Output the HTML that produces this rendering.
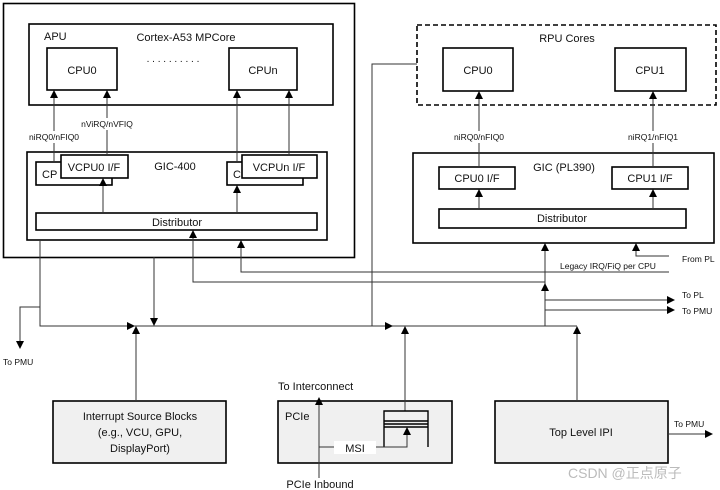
<!DOCTYPE html>
<html><head><meta charset="utf-8"><style>
html,body{margin:0;padding:0;background:#fff;}
svg{display:block;}
text{font-family:"Liberation Sans","Noto Sans CJK SC",sans-serif;fill:#111;}
</style></head><body>
<svg width="720" height="490" viewBox="0 0 720 490" xmlns="http://www.w3.org/2000/svg">
<defs>
<marker id="a" markerWidth="8" markerHeight="8" refX="7" refY="4" orient="auto" markerUnits="userSpaceOnUse">
<path d="M0,0 L8,4 L0,8 z" fill="#000"/></marker>
</defs>
<g fill="none" stroke="#000" stroke-width="1.6">
<rect x="3.5" y="3.5" width="351" height="254"/>
<rect x="29" y="24" width="304" height="81"/>
<rect x="47" y="48" width="70" height="42" fill="#fff"/>
<rect x="229" y="48" width="68" height="42" fill="#fff"/>
<rect x="27" y="152" width="300" height="88"/>
<rect x="36" y="162" width="76" height="23" fill="#fff"/>
<rect x="61" y="155" width="67" height="23" fill="#fff"/>
<rect x="227" y="162" width="76" height="23" fill="#fff"/>
<rect x="242" y="155" width="75" height="23" fill="#fff"/>
<rect x="36" y="213" width="281" height="17" fill="#fff"/>
<rect x="417" y="25" width="299" height="80" stroke-dasharray="5,3"/>
<rect x="443" y="48" width="70" height="43"/>
<rect x="615" y="48" width="71" height="43"/>
<rect x="413" y="153" width="301" height="90"/>
<rect x="439" y="167" width="76" height="22"/>
<rect x="612" y="167" width="76" height="22"/>
<rect x="439" y="209" width="247" height="19"/>
<rect x="53" y="401" width="173" height="62" fill="#f0f0f0"/>
<rect x="278" y="401" width="174" height="62" fill="#f0f0f0"/>
<rect x="495" y="401" width="173" height="62" fill="#f0f0f0"/>
</g>
<g fill="none" stroke="#333" stroke-width="1">
<line x1="54" y1="162" x2="54" y2="91" marker-end="url(#a)"/>
<line x1="107" y1="155" x2="107" y2="91" marker-end="url(#a)"/>
<line x1="237" y1="162" x2="237" y2="91" marker-end="url(#a)"/>
<line x1="289" y1="155" x2="289" y2="91" marker-end="url(#a)"/>
<line x1="103" y1="213" x2="103" y2="179" marker-end="url(#a)"/>
<line x1="237" y1="213" x2="237" y2="186" marker-end="url(#a)"/>
<line x1="479" y1="167" x2="479" y2="92" marker-end="url(#a)"/>
<line x1="653" y1="167" x2="653" y2="92" marker-end="url(#a)"/>
<line x1="479" y1="209" x2="479" y2="190" marker-end="url(#a)"/>
<line x1="653" y1="209" x2="653" y2="190" marker-end="url(#a)"/>
<polyline points="40,240 40,326 134,326" marker-end="url(#a)"/>
<line x1="134" y1="326" x2="577" y2="326"/>
<polyline points="40,307 20,307 20,348" marker-end="url(#a)"/>
<line x1="154" y1="257" x2="154" y2="325" marker-end="url(#a)"/>
<line x1="136" y1="401" x2="136" y2="327" marker-end="url(#a)"/>
<polyline points="545,282 193,282 193,231" marker-end="url(#a)"/>
<polyline points="669,272 241,272 241,241" marker-end="url(#a)"/>
<polyline points="669,256 636,256 636,244" marker-end="url(#a)"/>
<line x1="545" y1="326" x2="545" y2="244" marker-end="url(#a)"/>
<line x1="545" y1="300" x2="545" y2="284" marker-end="url(#a)"/>
<line x1="545" y1="300" x2="674" y2="300" marker-end="url(#a)"/>
<line x1="545" y1="310" x2="674" y2="310" marker-end="url(#a)"/>
<polyline points="417,64 372,64 372,326 392,326" marker-end="url(#a)"/>
<line x1="405" y1="411" x2="405" y2="327" marker-end="url(#a)"/>
<line x1="577" y1="401" x2="577" y2="327" marker-end="url(#a)"/>
<line x1="668" y1="434" x2="712" y2="434" marker-end="url(#a)"/>
<line x1="319" y1="478" x2="319" y2="398" marker-end="url(#a)"/>
<polyline points="384,447 384,411 428,411 428,447" stroke="#000" stroke-width="1.4"/>
<line x1="384" y1="421" x2="428" y2="421" stroke="#000" stroke-width="1.4"/>
<line x1="384" y1="424" x2="428" y2="424" stroke="#000" stroke-width="1.4"/>
<line x1="384" y1="427" x2="428" y2="427" stroke="#000" stroke-width="1.4"/>
<polyline points="319,447 334,447"/>
<polyline points="376,447 407,447 407,428" marker-end="url(#a)"/>
</g>
<rect x="334" y="441" width="42" height="13" fill="#fff"/>
<rect x="26" y="131" width="56" height="12" fill="#fff"/>
<rect x="79" y="118" width="56" height="12" fill="#fff"/>
<rect x="451" y="131" width="56" height="12" fill="#fff"/>
<rect x="625" y="131" width="56" height="12" fill="#fff"/>
<text x="44" y="40" font-size="11">APU</text>
<text x="186" y="41" font-size="11" text-anchor="middle">Cortex-A53 MPCore</text>
<text x="173" y="62" font-size="10" text-anchor="middle" fill="#555">. . . . . . . . . .</text>
<text x="82" y="74" font-size="11" text-anchor="middle">CPU0</text>
<text x="263" y="74" font-size="11" text-anchor="middle">CPUn</text>
<text x="54" y="140" font-size="8.5" text-anchor="middle">niRQ0/nFIQ0</text>
<text x="107" y="127" font-size="8.5" text-anchor="middle">nViRQ/nVFIQ</text>
<text x="42" y="178" font-size="11">CP</text>
<text x="233" y="178" font-size="11">C</text>
<text x="94" y="171" font-size="11" text-anchor="middle">VCPU0 I/F</text>
<text x="279" y="171" font-size="11" text-anchor="middle">VCPUn I/F</text>
<text x="175" y="170" font-size="11" text-anchor="middle">GIC-400</text>
<text x="177" y="226" font-size="11" text-anchor="middle">Distributor</text>
<text x="567" y="42" font-size="11" text-anchor="middle">RPU Cores</text>
<text x="478" y="74" font-size="11" text-anchor="middle">CPU0</text>
<text x="650" y="74" font-size="11" text-anchor="middle">CPU1</text>
<text x="479" y="140" font-size="8.5" text-anchor="middle">niRQ0/nFIQ0</text>
<text x="653" y="140" font-size="8.5" text-anchor="middle">niRQ1/nFIQ1</text>
<text x="564" y="171" font-size="11" text-anchor="middle">GIC (PL390)</text>
<text x="477" y="182" font-size="11" text-anchor="middle">CPU0 I/F</text>
<text x="650" y="182" font-size="11" text-anchor="middle">CPU1 I/F</text>
<text x="562" y="222" font-size="11" text-anchor="middle">Distributor</text>
<text x="682" y="262" font-size="8.5">From PL</text>
<text x="560" y="269" font-size="8.5">Legacy IRQ/FiQ per CPU</text>
<text x="682" y="298" font-size="8.5">To PL</text>
<text x="682" y="314" font-size="8.5">To PMU</text>
<text x="3" y="365" font-size="8.5">To PMU</text>
<text x="278" y="390" font-size="11">To Interconnect</text>
<text x="285" y="420" font-size="11">PCIe</text>
<text x="355" y="452" font-size="11" text-anchor="middle">MSI</text>
<text x="320" y="488" font-size="11" text-anchor="middle">PCIe Inbound</text>
<text x="140" y="420" font-size="11" text-anchor="middle">Interrupt Source Blocks</text>
<text x="140" y="436" font-size="11" text-anchor="middle">(e.g., VCU, GPU,</text>
<text x="140" y="452" font-size="11" text-anchor="middle">DisplayPort)</text>
<text x="581" y="436" font-size="11" text-anchor="middle">Top Level IPI</text>
<text x="674" y="427" font-size="8.5">To PMU</text>
<text x="568" y="478" font-size="14" style="fill:#bbb">CSDN @正点原子</text>
</svg>
</body></html>
